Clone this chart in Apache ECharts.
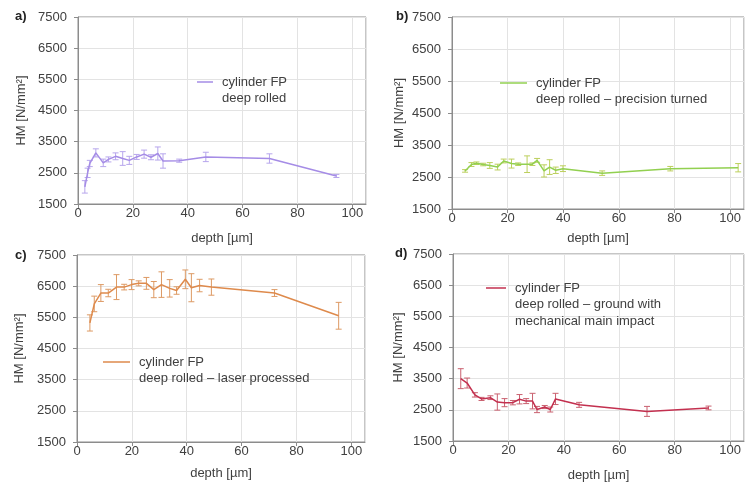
<!DOCTYPE html>
<html><head><meta charset="utf-8">
<script src="https://cdn.jsdelivr.net/npm/echarts@6/dist/echarts.min.js"></script>
<style>html,body{margin:0;padding:0;background:#fff}#c{width:753px;height:483px}</style>
</head><body><div id="c"></div>
<script>
// ---- data ----
const panelLabels = ['a)', 'b)', 'c)', 'd)'];
const seriesNames = [
  'cylinder FP\ndeep rolled',
  'cylinder FP\ndeep rolled – precision turned',
  'cylinder FP\ndeep rolled – laser processed',
  'cylinder FP\ndeep rolled – ground with\nmechanical main impact'
];
const xAxisName = 'depth [µm]';
const yAxisName = 'HM [N/mm²]';
const xMin = 0, xMax = 105, xStep = 20;
const yMin = 1500, yMax = 7500, yStep = 1000;

// a) deep rolled
const depthA = [2.5, 3.5, 4.3, 6.5, 9.2, 11.1, 13.7, 16.3, 18.7, 21.4, 24.1, 26.6, 29.1, 31.0, 36.9, 46.6, 69.8, 94.2];
const hmA    = [2050, 2500, 2800, 3140, 2820, 2930, 3030, 2960, 2900, 3010, 3100, 3000, 3120, 2880, 2890, 3010, 2960, 2400];
const errA   = [200, 150, 100, 130, 120, 80, 110, 220, 130, 80, 130, 80, 210, 230, 50, 150, 150, 50];

// b) deep rolled – precision turned
const depthB = [4.7, 7.0, 8.8, 11.2, 13.6, 16.4, 18.6, 21.4, 23.8, 27.0, 28.9, 30.6, 33.1, 35.1, 37.3, 39.9, 54.0, 78.5, 102.9];
const hmB    = [2690, 2890, 2930, 2890, 2860, 2810, 3000, 2920, 2900, 2900, 2900, 3020, 2690, 2810, 2710, 2760, 2620, 2760, 2790];
const errB   = [40, 60, 40, 40, 90, 90, 60, 140, 40, 260, 40, 60, 190, 230, 100, 90, 70, 70, 130];

// c) deep rolled – laser processed
const depthC = [4.7, 6.3, 8.7, 11.4, 14.4, 17.2, 19.9, 22.5, 25.3, 28.0, 30.8, 33.8, 36.3, 39.5, 41.7, 44.7, 49.0, 72.0, 95.4];
const hmC    = [5320, 5930, 6280, 6280, 6470, 6470, 6550, 6590, 6590, 6390, 6550, 6430, 6360, 6720, 6450, 6520, 6470, 6280, 5550];
const errC   = [260, 250, 270, 120, 400, 90, 160, 80, 190, 260, 410, 280, 120, 300, 450, 200, 260, 110, 430];

// d) deep rolled – ground with mechanical main impact
const depthD = [2.8, 5.1, 7.9, 10.3, 13.5, 16.0, 18.6, 21.6, 24.0, 26.4, 28.7, 30.3, 33.1, 35.1, 37.0, 45.5, 70.0, 92.2];
const hmD    = [3500, 3360, 2980, 2850, 2890, 2750, 2730, 2730, 2840, 2780, 2780, 2510, 2590, 2510, 2850, 2660, 2450, 2560];
const errD   = [320, 160, 70, 50, 60, 260, 130, 70, 150, 80, 250, 100, 50, 80, 180, 80, 160, 60];

// ---- styling / layout ----
const panels = [
  { d: depthA, h: hmA, e: errA, line: '#a58ce6', bar: '#b7a6ec',
    grid: { left: 78, top: 17, width: 288, height: 187 }, yGap: 50, xGap: 28,
    lab: [15, 10], leg: { left: 197, icon: 82, w: 16 } },
  { d: depthB, h: hmB, e: errB, line: '#92d050', bar: '#bccf5c',
    grid: { left: 452, top: 17, width: 292, height: 192 }, yGap: 46, xGap: 23,
    lab: [396, 10], leg: { left: 500, icon: 83, w: 27 } },
  { d: depthC, h: hmC, e: errC, line: '#de8a4c', bar: '#dd9a64',
    grid: { left: 77, top: 255, width: 288, height: 187 }, yGap: 51, xGap: 25,
    lab: [15, 249], leg: { left: 103, icon: 362, w: 27 } },
  { d: depthD, h: hmD, e: errD, line: '#c3304f', bar: '#c9606f',
    grid: { left: 453, top: 254, width: 291, height: 191 }, yGap: 48, xGap: 28,
    lab: [395, 247], leg: { left: 486, icon: 288, w: 20 } }
];

const txt = '#404040';
const font = 'Liberation Sans, Arial, sans-serif';
const LH = 16.5;

const option = {
  animation: false,
  backgroundColor: '#fff',
  textStyle: { fontFamily: font },
  grid: [], xAxis: [], yAxis: [], series: [], legend: [], graphic: []
};

panels.forEach((p, i) => {
  option.grid.push(Object.assign({ show: true, borderColor: '#8c8c8c', borderWidth: 1, backgroundColor: 'transparent' }, p.grid));
  option.xAxis.push({
    gridIndex: i, type: 'value', min: xMin, max: xMax, interval: xStep,
    name: xAxisName, nameLocation: 'middle', nameGap: p.xGap,
    nameTextStyle: { color: txt, fontSize: 13, fontFamily: font },
    axisLine: { lineStyle: { color: '#8c8c8c' } },
    axisTick: { show: true, length: 4, lineStyle: { color: '#8c8c8c' } },
    axisLabel: { color: txt, fontSize: 13, margin: 3, showMaxLabel: false, fontFamily: font },
    splitLine: { show: true, lineStyle: { color: '#e3e3e3' } }
  });
  option.yAxis.push({
    gridIndex: i, type: 'value', min: yMin, max: yMax, interval: yStep,
    name: yAxisName, nameLocation: 'middle', nameGap: p.yGap,
    nameTextStyle: { color: txt, fontSize: 13, fontFamily: font },
    axisLine: { show: true, lineStyle: { color: '#8c8c8c' } },
    axisTick: { show: true, length: 4, lineStyle: { color: '#8c8c8c' } },
    axisLabel: { color: txt, fontSize: 13, margin: 11, fontFamily: font, formatter: v => String(v) },
    splitLine: { show: true, lineStyle: { color: '#e3e3e3' } }
  });
  const barColor = p.bar;
  option.series.push({
    type: 'custom', xAxisIndex: i, yAxisIndex: i, silent: true, z: 3,
    data: p.d.map((x, k) => [x, p.h[k] - p.e[k], p.h[k] + p.e[k]]),
    encode: { x: 0, y: [1, 2] },
    renderItem: (params, api) => {
      const x = api.value(0);
      const top = api.coord([x, api.value(2)]);
      const bot = api.coord([x, api.value(1)]);
      const w = 3;
      const st = { stroke: barColor, lineWidth: 1 };
      return { type: 'group', children: [
        { type: 'line', shape: { x1: top[0], y1: top[1], x2: bot[0], y2: bot[1] }, style: st },
        { type: 'line', shape: { x1: top[0] - w, y1: top[1], x2: top[0] + w, y2: top[1] }, style: st },
        { type: 'line', shape: { x1: bot[0] - w, y1: bot[1], x2: bot[0] + w, y2: bot[1] }, style: st }
      ] };
    }
  });
  option.series.push({
    type: 'line', name: seriesNames[i], xAxisIndex: i, yAxisIndex: i, z: 4,
    data: p.d.map((x, k) => [x, p.h[k]]),
    showSymbol: false, symbol: 'none',
    lineStyle: { color: p.line, width: 1.5 }, itemStyle: { color: p.line }
  });
  const nLines = seriesNames[i].split('\n').length;
  const totalLines = 2 * nLines - 1;
  option.legend.push({
    data: [seriesNames[i]], left: p.leg.left, top: p.leg.icon - totalLines * LH / 2, padding: 0,
    orient: 'vertical', icon: 'rect', itemWidth: p.leg.w, itemHeight: 1.5, itemGap: 0,
    selectedMode: false,
    formatter: name => {
      const lines = name.split('\n');
      const pad = [];
      for (let k = 0; k < lines.length - 1; k++) pad.push('{p|\u00a0}');
      return pad.concat(lines.map(l => '{p|' + l + '}')).join('\n');
    },
    textStyle: { color: txt, fontSize: 13, lineHeight: LH, fontFamily: font,
      rich: { p: { color: txt, fontSize: 13, lineHeight: LH, fontFamily: font, padding: [0, 0, 0, 4] } } }
  });
  option.graphic.push({
    type: 'text', left: p.lab[0], top: p.lab[1],
    style: { text: panelLabels[i], fill: '#222', font: 'bold 13px ' + font }
  });
});

const chart = echarts.init(document.getElementById('c'), null, { renderer: 'canvas' });
chart.setOption(option);
</script></body></html>
